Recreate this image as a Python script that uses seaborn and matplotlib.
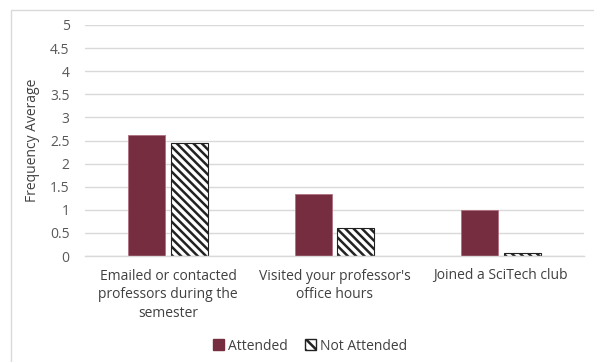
import matplotlib
matplotlib.use("Agg")
import matplotlib.pyplot as plt
import matplotlib.patches as mpatches
import seaborn as sns
import pandas as pd

categories = [
    "Emailed or contacted\nprofessors during the\nsemester",
    "Visited your professor's\noffice hours",
    "Joined a SciTech club",
]
attended = [2.62, 1.34, 0.99]
not_attended = [2.45, 0.60, 0.07]
series = ["Attended", "Not Attended"]
yticks = [0, 0.5, 1, 1.5, 2, 2.5, 3, 3.5, 4, 4.5, 5]

df = pd.DataFrame({
    "Category": categories * 2,
    "Group": [series[0]] * 3 + [series[1]] * 3,
    "Value": attended + not_attended,
})

sns.set_theme(style="white")
plt.rcParams["font.family"] = ["Open Sans", "DejaVu Sans"]
plt.rcParams["hatch.linewidth"] = 1.8

W, H = 594, 362
fig = plt.figure(figsize=(W / 100, H / 100), dpi=100)
ax = fig.add_axes([85 / W, 1 - 256 / H, (584 - 85) / W, (256 - 25) / H])

maroon = "#772D40"
sns.barplot(data=df, x="Category", y="Value", hue="Group",
            palette=[maroon, "white"], width=0.512, gap=0.13,
            ax=ax, legend=False, saturation=1)

for bar in ax.patches[:3]:
    bar.set_edgecolor("#B07080")
    bar.set_linewidth(0.6)
for bar in ax.patches[3:6]:
    bar.set_hatch("\\\\\\\\")
    bar.set_edgecolor("#222222")
    bar.set_linewidth(0.8)

ax.set_ylim(0, 5)
ax.set_xlim(-0.5, 2.5)
ax.set_yticks(yticks)
ax.set_yticklabels([f"{t:g}" for t in yticks])
ax.yaxis.grid(True, color="#D9D9D9", linewidth=1)
ax.set_axisbelow(True)
for s in ["top", "right", "left"]:
    ax.spines[s].set_visible(False)
ax.spines["bottom"].set_color("#D9D9D9")
ax.spines["bottom"].set_linewidth(1)
ax.tick_params(axis="y", labelsize=10, labelcolor="#595959", length=0, pad=11)
ax.tick_params(axis="x", labelsize=10, labelcolor="#404040", length=0, pad=9)
for lbl in ax.get_xticklabels():
    lbl.set_linespacing(1.35)
ax.set_xlabel("")
ax.set_ylabel("Frequency Average", fontsize=10, color="#404040")
ax.yaxis.set_label_coords((40 - 85) / (584 - 85), 0.5)

handles = [
    mpatches.Patch(facecolor=maroon, edgecolor=maroon, label=series[0]),
    mpatches.Patch(facecolor="white", edgecolor="#222222", hatch="\\\\\\", label=series[1]),
]
fig.legend(handles=handles, loc="center", bbox_to_anchor=(310 / W, 1 - 346 / H),
           ncol=2, frameon=False, fontsize=10, handlelength=0.8, handleheight=0.8,
           handletextpad=0.3, columnspacing=1.2, labelcolor="#404040")

# outer chart frame
fig.patches.append(mpatches.Rectangle((11 / W, -0.1), 1.2, 1 - 10 / H + 0.1,
                                      transform=fig.transFigure, fill=False,
                                      edgecolor="#D9D9D9", linewidth=1))

fig.savefig("out.png", dpi=100)
